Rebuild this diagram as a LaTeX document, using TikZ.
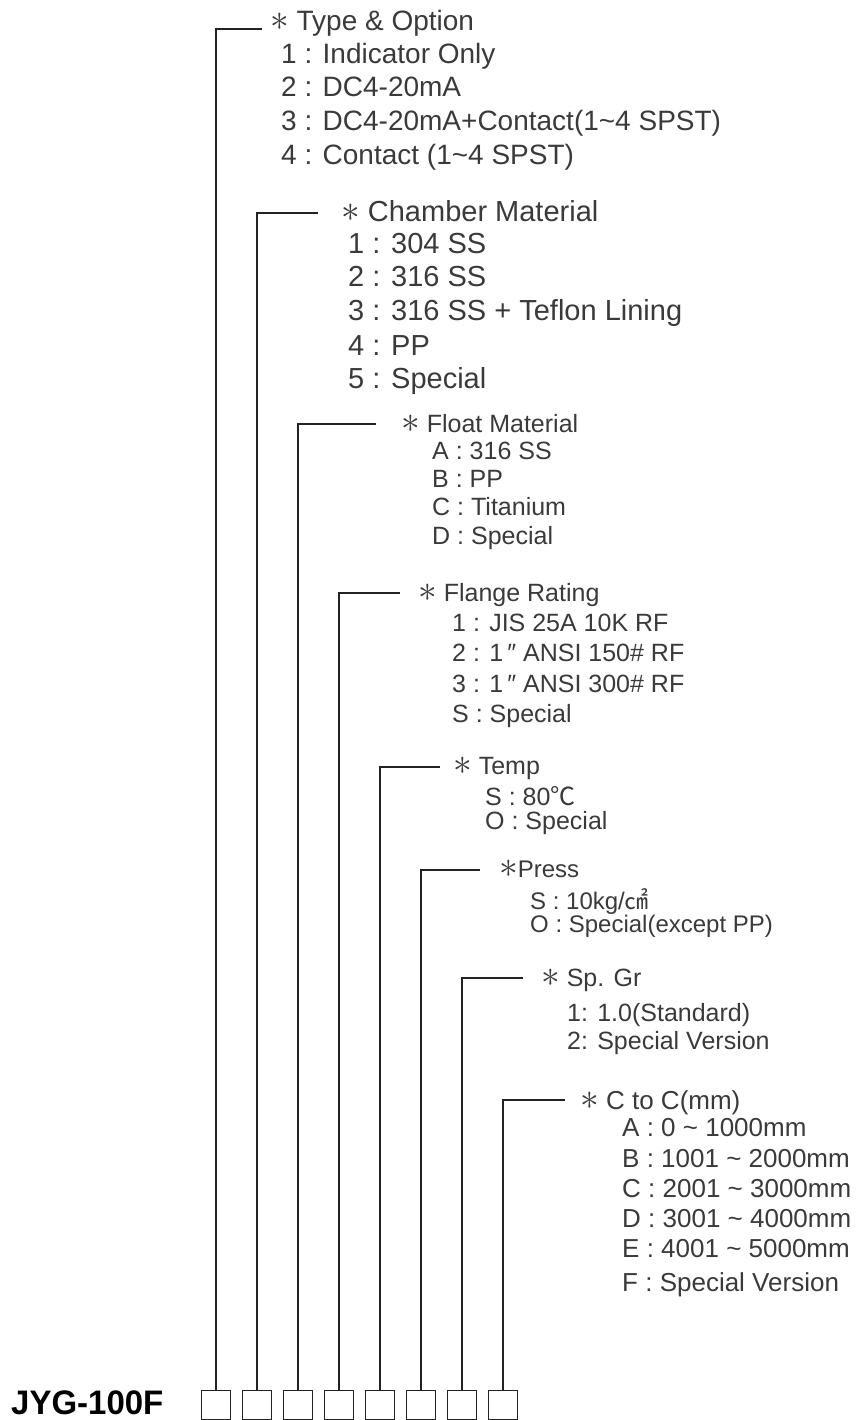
\documentclass[tikz,border=0pt]{standalone}
\usepackage{fontspec}
\setmainfont{Liberation Sans}
\newfontfamily\cjk{Noto Sans CJK KR}
\usetikzlibrary{positioning}
\definecolor{txtgray}{HTML}{3A3A3A}
\definecolor{linegray}{HTML}{222222}
\newcommand{\fs}[1]{\fontsize{#1}{#1}\selectfont}
\newcommand{\bul}{\scalebox{1.5}{$\ast$}}

\begin{document}
\begin{tikzpicture}[x=1pt,y=-1pt]
    \tikzstyle{codebox}=[rectangle, minimum size = 29pt, inner sep=0pt, line width=1.6pt, draw = linegray]
    \tikzstyle{hdr}=[anchor=base west, inner sep=0pt, text=txtgray]
    \tikzstyle{item}=[anchor=base west, inner sep=0pt, text=txtgray]
    \tikzstyle{connect}=[line width=1.6pt, draw=linegray]
    \useasboundingbox (0,0) rectangle (855,1420);

    \node[anchor=base west, inner sep=0pt, font=\bfseries\fs{34}] (model) at (11,1414) {\scalebox{0.97}[1]{JYG-100F}};
    \node[codebox] (B1) at (216,1405) {};
    \node[codebox] (B2) at (257,1405) {};
    \node[codebox] (B3) at (298,1405) {};
    \node[codebox] (B4) at (339,1405) {};
    \node[codebox] (B5) at (380,1405) {};
    \node[codebox] (B6) at (421,1405) {};
    \node[codebox] (B7) at (462,1405) {};
    \node[codebox] (B8) at (503,1405) {};

    % type & option
    \node[hdr, font=\fs{28}] (H1) at (270,31) {\bul{} Type \& Option};
    \node[item, font=\fs{28}] (T1) at (281,64) {1 : Indicator Only};
    \node[item, font=\fs{28}] (T2) at (281,97) {2 : DC4-20mA};
    \node[item, font=\fs{28}] (T3) at (281,131) {3 : DC4-20mA+Contact(1\textasciitilde4 SPST)};
    \node[item, font=\fs{28}] (T4) at (281,165) {4 : Contact (1\textasciitilde4 SPST)};

    % chamber
    \node[hdr, font=\fs{29}] (H2) at (341,222) {\bul{} Chamber Material};
    \node[item, font=\fs{29}] (C1) at (348,253.5) {1 : 304 SS};
    \node[item, font=\fs{29}] (C2) at (348,286.5) {2 : 316 SS};
    \node[item, font=\fs{29}] (C3) at (348,320.5) {3 : 316 SS + Teflon Lining};
    \node[item, font=\fs{29}] (C4) at (348,355.5) {4 : PP};
    \node[item, font=\fs{29}] (C5) at (348,388.5) {5 : Special};

    % float
    \node[hdr, font=\fs{25}] (H3) at (401,432) {\bul{} Float Material};
    \node[item, font=\fs{25}] (F1) at (432,459) {A : 316 SS};
    \node[item, font=\fs{25}] (F2) at (432,487) {B : PP};
    \node[item, font=\fs{25}] (F3) at (432,515) {C : Titanium};
    \node[item, font=\fs{25}] (F4) at (432,544) {D : Special};

    % flange
    \node[hdr, font=\fs{25}] (H4) at (418,601) {\bul{} Flange Rating};
    \node[item, font=\fs{25}] (R1) at (452,631) {1 : JIS 25A 10K RF};
    \node[item, font=\fs{25}] (R2) at (452,661) {2 : 1\,″ ANSI 150\# RF};
    \node[item, font=\fs{25}] (R3) at (452,692) {3 : 1\,″ ANSI 300\# RF};
    \node[item, font=\fs{25}] (R4) at (452,722) {S : Special};

    % temp
    \node[hdr, font=\fs{25}] (H5) at (453,774) {\bul{} Temp};
    \node[item, font=\fs{25}] (M1) at (485,805) {S : 80{\cjk ℃}};
    \node[item, font=\fs{25}] (M2) at (485,829) {O : Special};

    % press
    \node[hdr, font=\fs{24}] (H6) at (499,877) {\bul{}Press};
    \node[item, font=\fs{24}] (P1) at (530,909) {S : 10kg/{\cjk ㎠}};
    \node[item, font=\fs{24}] (P2) at (530,932) {O : Special(except PP)};

    % sp. gr
    \node[hdr, font=\fs{25}] (H7) at (541,986) {\bul{} Sp. Gr};
    \node[item, font=\fs{25}] (G1) at (567,1021) {1: 1.0(Standard)};
    \node[item, font=\fs{25}] (G2) at (567,1049) {2: Special Version};

    % c to c
    \node[hdr, font=\fs{26}] (H8) at (580,1109) {\bul{} C to C(mm)};
    \node[item, font=\fs{26}] (L1) at (622,1136.5) {A : 0 \textasciitilde{} 1000mm};
    \node[item, font=\fs{26}] (L2) at (622,1167.5) {B : 1001 \textasciitilde{} 2000mm};
    \node[item, font=\fs{26}] (L3) at (622,1197.5) {C : 2001 \textasciitilde{} 3000mm};
    \node[item, font=\fs{26}] (L4) at (622,1227.5) {D : 3001 \textasciitilde{} 4000mm};
    \node[item, font=\fs{26}] (L5) at (622,1257.5) {E : 4001 \textasciitilde{} 5000mm};
    \node[item, font=\fs{26}] (L6) at (622,1291.5) {F : Special Version};

    \coordinate (h1) at (262,29);
    \coordinate (h2) at (318,213);
    \coordinate (h3) at (376,424);
    \coordinate (h4) at (400,593);
    \coordinate (h5) at (440,767);
    \coordinate (h6) at (480,870);
    \coordinate (h7) at (523,978);
    \coordinate (h8) at (565,1100);

    \draw[connect] (B1.north) |- (h1);
    \draw[connect] (B2.north) |- (h2);
    \draw[connect] (B3.north) |- (h3);
    \draw[connect] (B4.north) |- (h4);
    \draw[connect] (B5.north) |- (h5);
    \draw[connect] (B6.north) |- (h6);
    \draw[connect] (B7.north) |- (h7);
    \draw[connect] (B8.north) |- (h8);

\end{tikzpicture}
\end{document}
